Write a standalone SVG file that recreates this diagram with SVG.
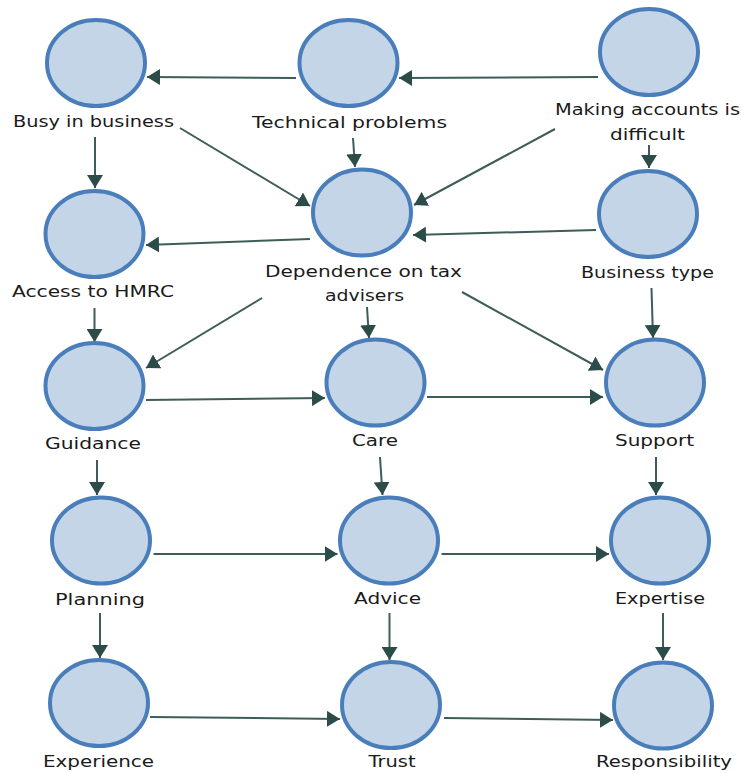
<svg xmlns="http://www.w3.org/2000/svg" width="742" height="773" viewBox="0 0 742 773">
<style>
.node ellipse{fill:#c4d5e8;stroke:#4a7ebb;stroke-width:4}
.node text{font-family:"DejaVu Sans","Verdana",sans-serif;font-size:16px;fill:#1a1a1a;text-anchor:middle}
#connectors line{stroke:#3d5c5a;stroke-width:2;marker-end:url(#arr)}
</style>
<defs>
<marker id="arr" markerUnits="userSpaceOnUse" markerWidth="16" markerHeight="16" refX="13" refY="8" orient="auto">
<path d="M0,0 L13,8 L0,16 z" fill="#2c4c49"/>
</marker>
</defs>
<rect width="742" height="773" fill="#ffffff"/>
<g id="connectors">
<line x1="296" y1="78" x2="147" y2="77"/>
<line x1="598" y1="77" x2="399" y2="78"/>
<line x1="95" y1="137" x2="95" y2="188"/>
<line x1="180" y1="128" x2="310" y2="206"/>
<line x1="353" y1="138" x2="355" y2="167"/>
<line x1="555" y1="129" x2="414" y2="205"/>
<line x1="649" y1="145" x2="649" y2="168"/>
<line x1="310" y1="239" x2="146" y2="245"/>
<line x1="596" y1="230" x2="413" y2="235"/>
<line x1="94.5" y1="308" x2="94.5" y2="342"/>
<line x1="262" y1="298" x2="146" y2="368"/>
<line x1="367" y1="307" x2="369" y2="338"/>
<line x1="462" y1="292" x2="603" y2="370"/>
<line x1="651.5" y1="288" x2="653" y2="338"/>
<line x1="146" y1="400" x2="325" y2="398"/>
<line x1="427" y1="397" x2="603" y2="397"/>
<line x1="97" y1="460" x2="97" y2="495"/>
<line x1="380" y1="457" x2="382.5" y2="495"/>
<line x1="656" y1="457" x2="656" y2="495"/>
<line x1="153.5" y1="554" x2="337.5" y2="554"/>
<line x1="441.5" y1="554" x2="609" y2="554"/>
<line x1="100" y1="613" x2="100" y2="658"/>
<line x1="389.5" y1="613" x2="389.5" y2="660"/>
<line x1="663" y1="613" x2="663" y2="660"/>
<line x1="150" y1="717" x2="340" y2="719"/>
<line x1="444" y1="718" x2="613" y2="720"/>
</g>
<g id="busy" class="node"><ellipse cx="96" cy="63" rx="49" ry="43"/><text x="93.5" y="127" textLength="161" lengthAdjust="spacingAndGlyphs">Busy in business</text></g>
<g id="technical" class="node"><ellipse cx="348.5" cy="63" rx="49" ry="43"/><text x="349.5" y="128" textLength="195" lengthAdjust="spacingAndGlyphs">Technical problems</text></g>
<g id="making" class="node"><ellipse cx="649" cy="52" rx="49" ry="43"/><text x="647.5" y="115" textLength="185" lengthAdjust="spacingAndGlyphs">Making accounts is</text><text x="647.5" y="140" textLength="75" lengthAdjust="spacingAndGlyphs">difficult</text></g>
<g id="access" class="node"><ellipse cx="94.5" cy="234" rx="49" ry="43"/><text x="93" y="297" textLength="162" lengthAdjust="spacingAndGlyphs">Access to HMRC</text></g>
<g id="dependence" class="node"><ellipse cx="362" cy="212.5" rx="49" ry="43"/><text x="363.5" y="277" textLength="197" lengthAdjust="spacingAndGlyphs">Dependence on tax</text><text x="364.5" y="301" textLength="79" lengthAdjust="spacingAndGlyphs">advisers</text></g>
<g id="businesstype" class="node"><ellipse cx="648" cy="214" rx="49" ry="43"/><text x="647.5" y="278" textLength="133" lengthAdjust="spacingAndGlyphs">Business type</text></g>
<g id="guidance" class="node"><ellipse cx="94.5" cy="386" rx="49" ry="43"/><text x="93" y="449" textLength="96" lengthAdjust="spacingAndGlyphs">Guidance</text></g>
<g id="care" class="node"><ellipse cx="375.5" cy="382.5" rx="49" ry="43"/><text x="375" y="446" textLength="46" lengthAdjust="spacingAndGlyphs">Care</text></g>
<g id="support" class="node"><ellipse cx="655" cy="382.5" rx="49" ry="43"/><text x="654.5" y="446" textLength="79" lengthAdjust="spacingAndGlyphs">Support</text></g>
<g id="planning" class="node"><ellipse cx="101" cy="540.5" rx="49" ry="43"/><text x="100" y="605" textLength="90" lengthAdjust="spacingAndGlyphs">Planning</text></g>
<g id="advice" class="node"><ellipse cx="389" cy="540.5" rx="49" ry="43"/><text x="387.5" y="604" textLength="67" lengthAdjust="spacingAndGlyphs">Advice</text></g>
<g id="expertise" class="node"><ellipse cx="660" cy="540.5" rx="49" ry="43"/><text x="660" y="604" textLength="90" lengthAdjust="spacingAndGlyphs">Expertise</text></g>
<g id="experience" class="node"><ellipse cx="99" cy="703" rx="49" ry="43"/><text x="98.5" y="767" textLength="111" lengthAdjust="spacingAndGlyphs">Experience</text></g>
<g id="trust" class="node"><ellipse cx="391" cy="705" rx="49" ry="43"/><text x="392" y="767" textLength="47" lengthAdjust="spacingAndGlyphs">Trust</text></g>
<g id="responsibility" class="node"><ellipse cx="663" cy="705.5" rx="49" ry="43"/><text x="664" y="767" textLength="136" lengthAdjust="spacingAndGlyphs">Responsibility</text></g>
</svg>
